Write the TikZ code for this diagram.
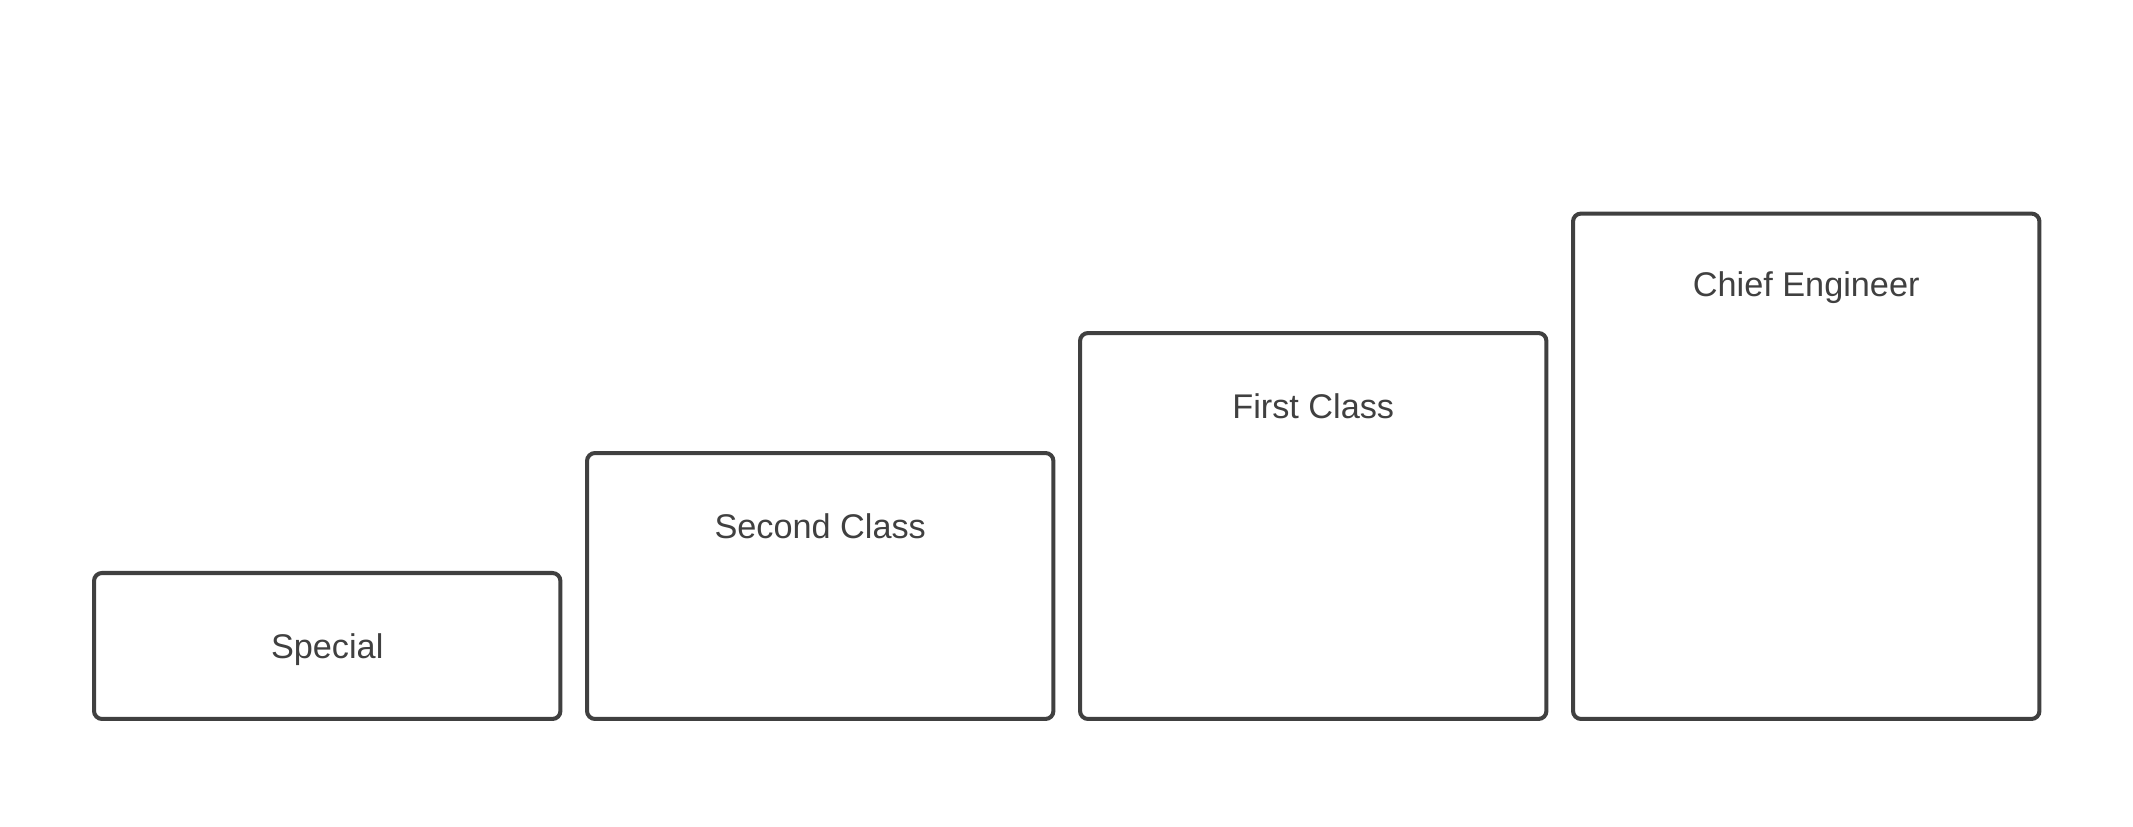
\documentclass[tikz,border=0pt]{standalone}
\usepackage{fontspec}
\setmainfont{Liberation Sans}
\usepackage{tikz}
\usetikzlibrary{positioning}

\definecolor{edge}{HTML}{404040}

\begin{document}
\begin{tikzpicture}[x=0.02cm,y=0.02cm]

  \tikzstyle{tier}=[rectangle,draw=edge,line width=2.3pt,rounded corners=0.16cm,
    minimum width=9.33cm,anchor=south west,inner sep=0pt]
  \tikzstyle{rank}=[text=edge,font=\fontsize{19.5}{23}\selectfont]

  \useasboundingbox (0,0) rectangle (2133,827);

  \node (special) at (92,106)   [tier,minimum height=2.92cm] {};
  \node (second)  at (585,106)  [tier,minimum height=5.32cm] {};
  \node (first)   at (1078,106) [tier,minimum height=7.72cm] {};
  \node (chief)   at (1571,106) [tier,minimum height=10.11cm] {};

  \node (specialt) at ([yshift=-2]special.center)   [rank] {Special};
  \node (secondt)  [rank,below=1.5cm of second.north,anchor=center] {Second Class};
  \node (firstt)   [rank,below=1.5cm of first.north,anchor=center]  {First Class};
  \node (chieft)   [rank,below=1.52cm of chief.north,anchor=center] {Chief Engineer};
\end{tikzpicture}
\end{document}
